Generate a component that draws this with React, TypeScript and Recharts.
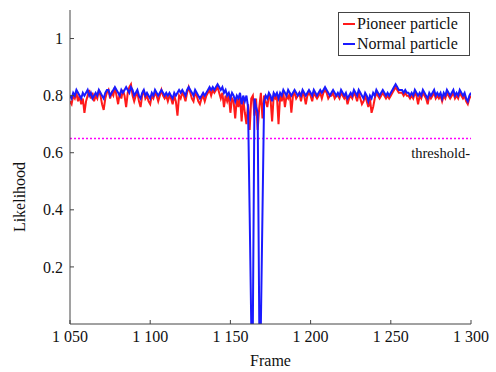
import React from "react";
import {
  LineChart, Line,
  XAxis, YAxis,
  ReferenceLine,
} from "recharts";

// ── Data ─────────────────────────────────────────────────────────────────────
const START_FRAME = 1050;

// Pioneer particle likelihood, frames 1050..1300
const pioneer = [
  0.78, 0.77, 0.80, 0.79, 0.81, 0.78, 0.80, 0.77, 0.79, 0.74,
  0.78, 0.80, 0.82, 0.79, 0.81, 0.78, 0.80, 0.79, 0.82, 0.80,
  0.77, 0.75, 0.79, 0.81, 0.82, 0.79, 0.81, 0.80, 0.83, 0.80,
  0.77, 0.81, 0.79, 0.82, 0.80, 0.76, 0.81, 0.83, 0.84, 0.80,
  0.78, 0.80, 0.81, 0.78, 0.76, 0.80, 0.82, 0.79, 0.80, 0.78,
  0.77, 0.80, 0.79, 0.81, 0.80, 0.78, 0.80, 0.82, 0.80, 0.79,
  0.80, 0.78, 0.80, 0.79, 0.77, 0.80, 0.78, 0.73, 0.80, 0.79,
  0.81, 0.80, 0.78, 0.81, 0.83, 0.81, 0.79, 0.78, 0.81, 0.80,
  0.78, 0.77, 0.79, 0.80, 0.78, 0.80, 0.81, 0.82, 0.80, 0.82,
  0.81, 0.82, 0.83, 0.81, 0.79, 0.81, 0.76, 0.80, 0.78, 0.80,
  0.74, 0.79, 0.78, 0.72, 0.79, 0.76, 0.80, 0.71, 0.79, 0.74,
  0.70, 0.77, 0.68, 0.79, 0.80, 0.73, 0.79, 0.68, 0.76, 0.81,
  0.72, 0.80, 0.78, 0.76, 0.80, 0.79, 0.71, 0.80, 0.79, 0.80,
  0.70, 0.80, 0.78, 0.81, 0.76, 0.80, 0.79, 0.81, 0.74, 0.80,
  0.81, 0.79, 0.80, 0.81, 0.78, 0.81, 0.80, 0.77, 0.80, 0.81,
  0.80, 0.78, 0.81, 0.80, 0.79, 0.80, 0.81, 0.79, 0.81, 0.82,
  0.81, 0.79, 0.80, 0.80, 0.81, 0.79, 0.80, 0.80, 0.79, 0.81,
  0.80, 0.79, 0.80, 0.77, 0.79, 0.80, 0.79, 0.81, 0.80, 0.78,
  0.81, 0.79, 0.77, 0.78, 0.80, 0.78, 0.76, 0.79, 0.74, 0.76,
  0.79, 0.81, 0.80, 0.79, 0.80, 0.81, 0.80, 0.79, 0.80, 0.79,
  0.80, 0.81, 0.82, 0.83, 0.82, 0.81, 0.81, 0.81, 0.80, 0.81,
  0.80, 0.80, 0.79, 0.80, 0.79, 0.81, 0.80, 0.77, 0.80, 0.79,
  0.81, 0.80, 0.79, 0.77, 0.80, 0.79, 0.80, 0.81, 0.79, 0.80,
  0.79, 0.80, 0.78, 0.80, 0.79, 0.81, 0.80, 0.79, 0.80, 0.81,
  0.79, 0.80, 0.79, 0.81, 0.80, 0.79, 0.80, 0.78, 0.77, 0.79,
  0.80,
];

// Normal particle likelihood, frames 1050..1300
const normal = [
  0.80, 0.79, 0.81, 0.80, 0.82, 0.81, 0.80, 0.79, 0.81, 0.80,
  0.81, 0.82, 0.80, 0.81, 0.79, 0.80, 0.81, 0.80, 0.82, 0.81,
  0.80, 0.79, 0.81, 0.82, 0.82, 0.80, 0.81, 0.82, 0.83, 0.82,
  0.81, 0.80, 0.82, 0.81, 0.82, 0.83, 0.82, 0.81, 0.83, 0.82,
  0.80, 0.81, 0.82, 0.80, 0.79, 0.81, 0.82, 0.80, 0.81, 0.80,
  0.79, 0.81, 0.80, 0.82, 0.81, 0.80, 0.81, 0.82, 0.81, 0.80,
  0.81, 0.80, 0.81, 0.80, 0.79, 0.81, 0.80, 0.81, 0.82, 0.81,
  0.82, 0.81, 0.80, 0.82, 0.83, 0.82, 0.81, 0.80, 0.82, 0.81,
  0.80, 0.79, 0.80, 0.81, 0.80, 0.81, 0.82, 0.83, 0.82, 0.83,
  0.82, 0.83, 0.84, 0.83, 0.82, 0.83, 0.81, 0.82, 0.80, 0.81,
  0.79, 0.81, 0.80, 0.78, 0.80, 0.79, 0.81, 0.77, 0.80, 0.78,
  0.80, 0.76, 0.39, 0.00, 0.00, 0.79, 0.76, 0.74, 0.00, 0.00,
  0.39, 0.78, 0.80, 0.79, 0.81, 0.80, 0.78, 0.81, 0.80, 0.81,
  0.79, 0.81, 0.80, 0.82, 0.81, 0.80, 0.82, 0.81, 0.80, 0.81,
  0.82, 0.81, 0.80, 0.81, 0.80, 0.82, 0.81, 0.80, 0.81, 0.82,
  0.81, 0.80, 0.82, 0.81, 0.80, 0.81, 0.82, 0.81, 0.82, 0.83,
  0.82, 0.81, 0.80, 0.81, 0.82, 0.81, 0.80, 0.81, 0.80, 0.82,
  0.81, 0.80, 0.81, 0.79, 0.80, 0.81, 0.80, 0.82, 0.81, 0.80,
  0.82, 0.81, 0.80, 0.79, 0.81, 0.80, 0.78, 0.80, 0.79, 0.81,
  0.80, 0.82, 0.81, 0.80, 0.81, 0.82, 0.81, 0.80, 0.81, 0.80,
  0.81, 0.82, 0.83, 0.84, 0.83, 0.82, 0.82, 0.82, 0.81, 0.82,
  0.81, 0.81, 0.80, 0.81, 0.80, 0.82, 0.81, 0.80, 0.81, 0.80,
  0.82, 0.81, 0.80, 0.79, 0.81, 0.80, 0.81, 0.82, 0.80, 0.81,
  0.80, 0.81, 0.79, 0.81, 0.80, 0.82, 0.81, 0.80, 0.81, 0.82,
  0.80, 0.81, 0.80, 0.82, 0.81, 0.80, 0.81, 0.79, 0.78, 0.80,
  0.81,
];

const xTicks = [1050, 1100, 1150, 1200, 1250, 1300];
const yTicks = [0.2, 0.4, 0.6, 0.8, 1];
const THRESHOLD = 0.65;

const data = pioneer.map((p, i) => ({
  frame: START_FRAME + i,
  pioneer: p,
  normal: normal[i],
}));

// ── Style ────────────────────────────────────────────────────────────────────
const FONT = "Liberation Serif, DejaVu Serif, serif";
const AXIS = "#444";
const TEXT = "#111";
const RED = "#ff1a1a";
const BLUE = "#1a1aff";
const MAGENTA = "#ff00ff";

const fmtFrame = (v: number) =>
  String(v).replace(/\B(?=(\d{3})+(?!\d))/g, " ");

// legend drawn as an overlay so it does not steal plot height
function LegendBox() {
  const row = (color: string, text: string) => (
    <div style={{ display: "flex", alignItems: "center", height: 20 }}>
      <span style={{ width: 12, height: 2, background: color, marginRight: 2 }} />
      <span>{text}</span>
    </div>
  );
  return (
    <div
      style={{
        position: "absolute",
        left: 338,
        top: 12,
        width: 122,
        border: `1px solid ${AXIS}`,
        background: "#fff",
        fontFamily: FONT,
        fontSize: 16,
        color: TEXT,
        padding: "1px 4px",
      }}
    >
      {row(RED, "Pioneer particle")}
      {row(BLUE, "Normal particle")}
    </div>
  );
}

function ThresholdLabel({ viewBox }: any) {
  if (!viewBox) return null;
  return (
    <text
      x={viewBox.x + viewBox.width - 1}
      y={viewBox.y + 20}
      textAnchor="end"
      fontFamily={FONT}
      fontSize={14.5}
      fill={TEXT}
    >
      threshold-
    </text>
  );
}

export default function App() {
  const tickStyle = { fontSize: 16, fill: TEXT, fontFamily: FONT };
  return (
    <div
      style={{
        position: "absolute",
        left: 0,
        top: 0,
        width: 496,
        height: 372,
        background: "#fff",
        fontFamily: FONT,
      }}
    >
      <LineChart
        width={496}
        height={372}
        data={data}
        margin={{ top: 10, right: 25, left: 0, bottom: 0 }}
      >
        <XAxis
          dataKey="frame"
          type="number"
          domain={[1050, 1300]}
          ticks={xTicks}
          tickFormatter={fmtFrame}
          height={48}
          stroke={AXIS}
          tick={tickStyle}
          tickSize={-4}
          tickMargin={11}
          allowDataOverflow
          label={{
            value: "Frame",
            position: "insideBottom",
            offset: 6,
            style: { fontSize: 16, fill: TEXT, fontFamily: FONT },
          }}
        />
        <XAxis
          xAxisId="top"
          orientation="top"
          dataKey="frame"
          type="number"
          domain={[1050, 1300]}
          ticks={xTicks}
          height={0}
          mirror
          tick={false}
          tickSize={4}
          stroke={AXIS}
        />
        <YAxis
          type="number"
          domain={[0, 1.1]}
          ticks={yTicks}
          tickFormatter={(v: number) => String(v)}
          width={70}
          stroke={AXIS}
          tick={tickStyle}
          tickSize={-4}
          tickMargin={11}
          allowDataOverflow
          label={{
            value: "Likelihood",
            angle: -90,
            position: "center",
            dx: -16,
            dy: 30,
            style: { fontSize: 16, fill: TEXT, fontFamily: FONT },
          }}
        />
        <YAxis
          yAxisId="right"
          orientation="right"
          type="number"
          domain={[0, 1.1]}
          ticks={yTicks}
          width={0}
          mirror
          tick={false}
          tickSize={4}
          stroke={AXIS}
        />
        <ReferenceLine
          y={THRESHOLD}
          stroke={MAGENTA}
          strokeWidth={1.5}
          strokeDasharray="2 2"
          label={<ThresholdLabel />}
        />
        <Line
          dataKey="pioneer"
          name="Pioneer particle"
          type="linear"
          stroke={RED}
          strokeWidth={2}
          dot={false}
          isAnimationActive={false}
        />
        <Line
          dataKey="normal"
          name="Normal particle"
          type="linear"
          stroke={BLUE}
          strokeWidth={2}
          dot={false}
          isAnimationActive={false}
        />
      </LineChart>
      <LegendBox />
    </div>
  );
}
